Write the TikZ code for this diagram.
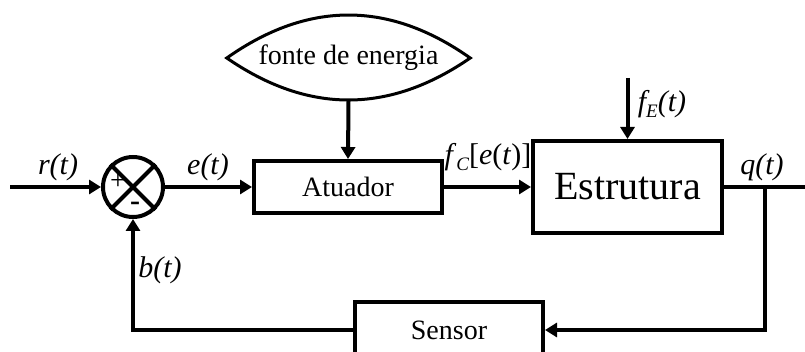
\documentclass[tikz,border=0pt]{standalone}
\usepackage{fontspec}
\setmainfont{Liberation Serif}
\usetikzlibrary{arrows.meta}
\newcommand{\lsub}[1]{\raisebox{-0.22em}{\fontsize{19}{19}\selectfont\itshape #1}}
\tikzset{
  blk/.style={draw, line width=4pt, rectangle, inner sep=0pt, font=\fontsize{28}{28}\selectfont},
  conn/.style={line width=4pt},
  arr/.style={conn, -{Triangle[length=12pt,width=14pt]}},
  lbl/.style={inner sep=0pt, font=\fontsize{30}{30}\selectfont\itshape},
}
\begin{document}
\begin{tikzpicture}[x=1pt,y=-1pt]
\useasboundingbox (0,0) rectangle (805,352);
% nodes
\node[circle, draw, line width=4pt, minimum size=60pt, inner sep=0pt] (sum) at (133,187) {};
\draw[line width=4pt] (sum.north west) -- (sum.south east) (sum.north east) -- (sum.south west);
\node[inner sep=0pt, font=\fontsize{28}{28}\selectfont] (plus) at (118,182) {+};
\node[inner sep=0pt, font=\fontsize{30}{30}\selectfont\bfseries, anchor=base] (minus) at (135,211) {-};
\node[blk, minimum width=188pt, minimum height=52pt] (act) at (348,187) {Atuador};
\node[blk, minimum width=189pt, minimum height=92pt, font=\fontsize{40}{40}\selectfont] (est) at (627.5,187) {Estrutura};
\node[blk, minimum width=188pt, minimum height=56pt] (sen) at (449,330) {Sensor};
\node[inner sep=0pt, minimum width=243pt, minimum height=85pt, font=\fontsize{28}{28}\selectfont] (lens) at (348.5,58) {fonte de energia};
\draw[line width=3pt] (lens.west) .. controls (308,0.7) and (389,0.7) .. (lens.east)
                      .. controls (389,114) and (308,114) .. (lens.west) -- cycle;
\coordinate (in) at (10,187);
\coordinate (out) at (805,187);
\coordinate (fetop) at (627.5,78);
\coordinate (branch) at (765,187);
% connectors
\draw[arr] (in) -- (sum.west);
\draw[arr] (sum.east) -- (act.west);
\draw[arr] (lens.south) -- (act.north);
\draw[arr] (act.east) -- (est.west);
\draw[arr] (fetop) -- (est.north);
\draw[conn] (est.east) -- (out);
\draw[arr] (branch) |- (sen.east);
\draw[arr] (sen.west) -| (sum.south);
% labels
\node[lbl] (lr) at (58,167) {r(t)};
\node[lbl] (le) at (208,167) {e(t)};
\node[lbl, font=\fontsize{30}{30}\selectfont] (lfc) at (488,157) {\textit{f}\lsub{C}[\textit{e}(\textit{t})]};
\node[lbl] (lfe) at (662,104) {f\lsub{E}(t)};
\node[lbl] (lq) at (762,167) {q(t)};
\node[lbl] (lb) at (160,270) {b(t)};
\end{tikzpicture}
\end{document}
